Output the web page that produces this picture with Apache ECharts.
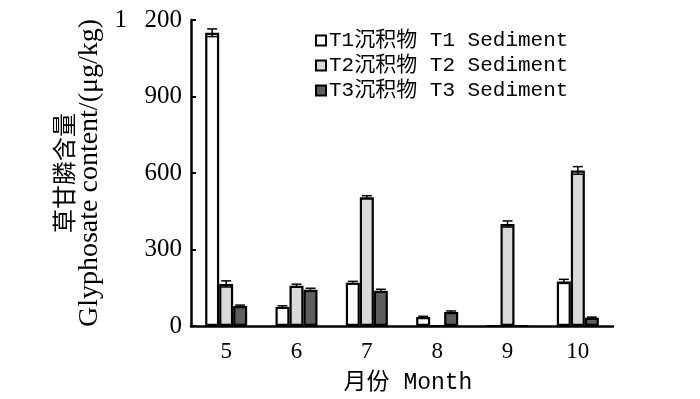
<!DOCTYPE html>
<html>
<head>
<meta charset="utf-8">
<script src="https://cdn.jsdelivr.net/npm/echarts@6/dist/echarts.min.js"></script>
<style>
  html, body { margin: 0; padding: 0; background: #fff; }
  #chart { width: 700px; height: 399px; }
</style>
</head>
<body>
<div id="chart"></div>
<script>
var months = ['5', '6', '7', '8', '9', '10'];
var seriesNames = ['T1沉积物 T1 Sediment', 'T2沉积物 T2 Sediment', 'T3沉积物 T3 Sediment'];
var t1Values = [1150, 75, 170, 35, 0, 175];
var t2Values = [165, 158, 505, 0, 400, 610];
var t3Values = [78, 142, 138, 55, 0, 32];
var t1Errors = [15, 4, 5, 3, 0, 8];
var t2Errors = [12, 6, 6, 0, 12, 15];
var t3Errors = [4, 6, 6, 4, 0, 3];
var yTicks = [0, 300, 600, 900, 1200];

var barColors = ['#ffffff', '#d9d9d9', '#5e5e5e'];
var barWidth = 14;
var serif = "'Liberation Serif', 'Noto Sans CJK SC', serif";
var mono = "'Liberation Mono', 'Noto Sans CJK SC', monospace";

var values = [t1Values, t2Values, t3Values];
var errors = [t1Errors, t2Errors, t3Errors];

// error bars drawn on top of the grouped bars
function errorSeries(k) {
    var data = values[k].map(function (v, i) { return [i, v, errors[k][i]]; });
    return {
        type: 'custom',
        name: 'err' + k,
        z: 5,
        renderItem: function (params, api) {
            var e = api.value(2);
            if (!e) { return; }
            var i = api.value(0), v = api.value(1);
            var off = (k - 1) * barWidth;
            var hi = api.coord([i, v + e]);
            var lo = api.coord([i, v - e]);
            var x = hi[0] + off;
            var cap = 5;
            var style = { stroke: '#000', lineWidth: 1.5 };
            return {
                type: 'group',
                children: [
                    { type: 'line', shape: { x1: x, y1: hi[1], x2: x, y2: lo[1] }, style: style },
                    { type: 'line', shape: { x1: x - cap, y1: hi[1], x2: x + cap, y2: hi[1] }, style: style },
                    { type: 'line', shape: { x1: x - cap, y1: lo[1], x2: x + cap, y2: lo[1] }, style: style }
                ]
            };
        },
        data: data
    };
}

var series = [];
for (var k = 0; k < 3; k++) {
    series.push({
        name: seriesNames[k],
        type: 'bar',
        barWidth: barWidth,
        barGap: 0,
        itemStyle: { color: barColors[k], borderColor: '#000', borderWidth: 2.2 },
        data: values[k]
    });
}
for (var k = 0; k < 3; k++) {
    series.push(errorSeries(k));
}

var chart = echarts.init(document.getElementById('chart'));
chart.setOption({
    animation: false,
    grid: { left: 191, right: 87, top: 20, bottom: 72 },
    legend: {
        data: seriesNames,
        orient: 'vertical',
        left: 310,
        top: 25,
        itemWidth: 10,
        itemHeight: 10,
        itemGap: 4,
        icon: 'rect',
        itemStyle: { borderColor: '#000', borderWidth: 2 },
        textStyle: { fontFamily: mono, fontSize: 21, color: '#000', padding: [0, 0, 0, -2] }
    },
    xAxis: {
        type: 'category',
        data: months,
        name: '月份 Month',
        nameLocation: 'middle',
        nameGap: 45,
        nameTextStyle: { fontFamily: mono, fontSize: 23, color: '#000', padding: [0, 0, 0, 12] },
        axisLine: { lineStyle: { color: '#000', width: 2.5 } },
        axisTick: { inside: true, length: 4, lineStyle: { color: '#000', width: 2 } },
        axisLabel: { fontFamily: serif, fontSize: 23, color: '#000', margin: 14 }
    },
    yAxis: {
        type: 'value',
        min: 0,
        max: 1200,
        interval: 300,
        name: '{cn|草甘膦含量}\n{en|Glyphosate content/(μg/kg)}',
        nameLocation: 'middle',
        nameGap: 84,
        nameTextStyle: {
            color: '#000',
            rich: {
                cn: { fontFamily: "'Noto Sans CJK SC', sans-serif", fontSize: 24, lineHeight: 27, color: '#000' },
                en: { fontFamily: serif, fontSize: 28, lineHeight: 25, color: '#000' }
            }
        },
        splitLine: { show: false },
        axisLine: { show: true, lineStyle: { color: '#000', width: 2.5 } },
        axisTick: { show: true, inside: true, length: 5, lineStyle: { color: '#000', width: 2 } },
        axisLabel: {
            fontFamily: serif, fontSize: 25, color: '#000', margin: 9,
            formatter: function (v) {
                if (yTicks.indexOf(v) < 0) { return ''; }
                return String(v).replace(/\B(?=(\d{3})+(?!\d))/g, '\u2002\u2009');
            }
        }
    },
    series: series
});
</script>
</body>
</html>
